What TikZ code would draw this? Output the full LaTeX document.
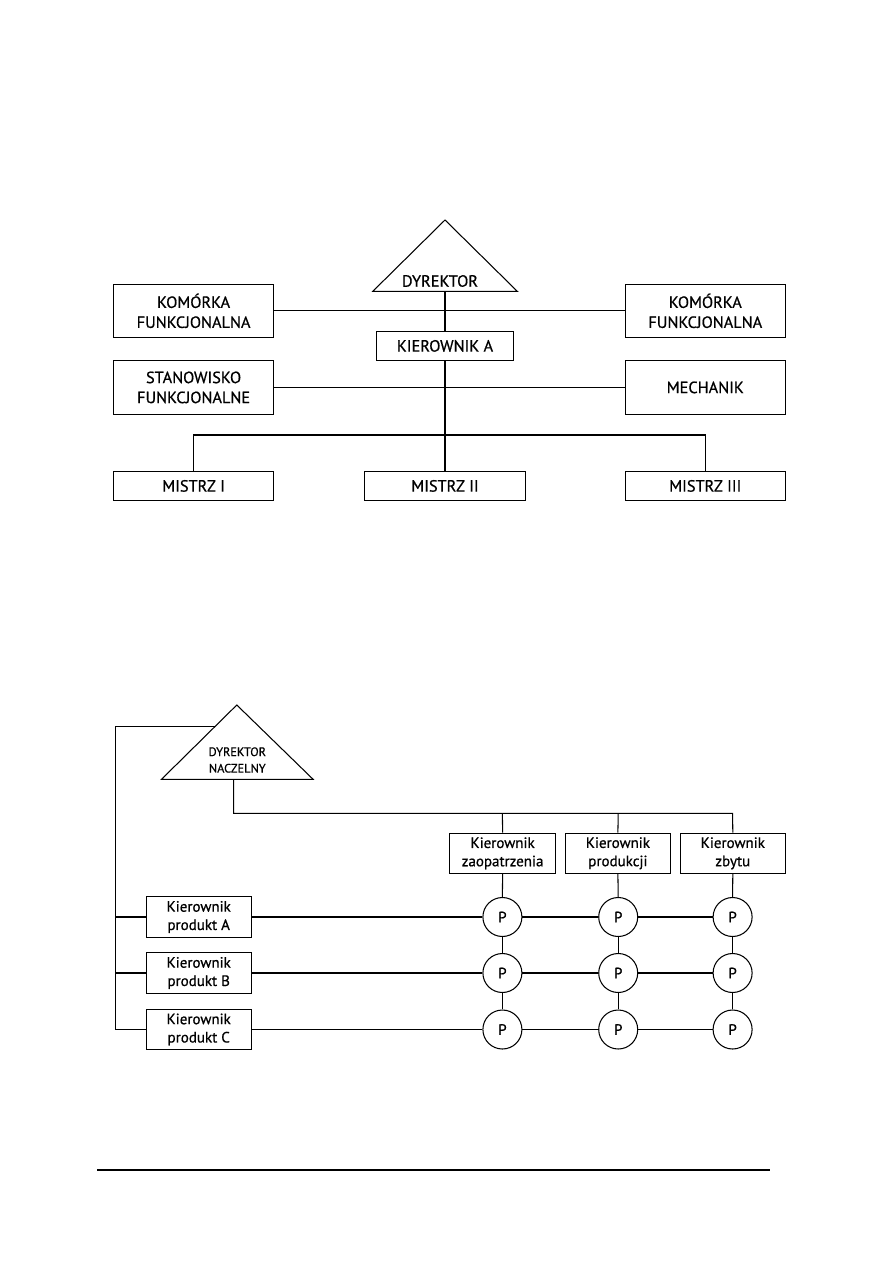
\documentclass[tikz,border=0pt]{standalone}
\usepackage{fontspec}
\setmainfont[FakeBold=0.7]{PT Sans}
\begin{document}
\begin{tikzpicture}[x=1pt,y=-1pt,line width=1.05pt,
  bigbox/.style={draw,rectangle,inner sep=0pt,minimum width=160.5pt,minimum height=53.5pt,align=center,font=\fontsize{16.3}{20}\selectfont},
  slimbox/.style={draw,rectangle,inner sep=0pt,minimum height=28.3pt,align=center,font=\fontsize{16.3}{20}\selectfont},
  kbox/.style={draw,rectangle,inner sep=0pt,minimum width=105.3pt,minimum height=40.3pt,align=center,font=\fontsize{15}{18.3}\selectfont},
  pcirc/.style={draw,circle,inner sep=0pt,minimum size=39pt,font=\fontsize{15}{18}\selectfont},
  tritext/.style={inner sep=0pt,align=center}]
\useasboundingbox (0,0) rectangle (893,1263);
% ---------- top diagram ----------
\draw (372.8,291.3) -- (445,220) -- (517.3,291.3) -- cycle;
\coordinate (dyrB) at (445,291.3);
\node[tritext,font=\fontsize{16.3}{20}\selectfont] (dyr) at (440,281) {DYREKTOR};
\node[bigbox] (komL) at (193.6,310.9) {KOMÓRKA\\FUNKCJONALNA};
\node[bigbox] (komR) at (705.3,310.9) {KOMÓRKA\\FUNKCJONALNA};
\node[slimbox,minimum width=137.7pt] (kierA) at (445,345.9) {KIEROWNIK A};
\node[bigbox] (stan) at (193.6,387.4) {STANOWISKO\\FUNKCJONALNE};
\node[bigbox] (mech) at (705.3,387.4) {MECHANIK};
\node[slimbox,minimum width=160.5pt] (m1) at (193.6,485.9) {MISTRZ I};
\node[slimbox,minimum width=160.5pt] (m2) at (445,485.9) {MISTRZ II};
\node[slimbox,minimum width=160.5pt] (m3) at (705.3,485.9) {MISTRZ III};
\coordinate (busL) at (193.6,435);
\coordinate (busR) at (705.3,435);
\draw (dyrB) -- (kierA.north);
\draw (kierA.south) -- (m2.north);
\draw (komL.east) -- (komR.west);
\draw (stan.east) -- (mech.west);
\draw (m1.north) -- (busL) -- (busR) -- (m3.north);
% ---------- bottom diagram ----------
\draw (161.5,779.3) -- (236.8,705) -- (313.1,779.3) -- cycle;
\coordinate (dnB) at (233.6,779.3);
\coordinate (dnL) at (214.8,726.7);
\node[tritext,font=\fontsize{12.3}{16.5}\selectfont] (dn) at (237.3,760) {DYREKTOR\\NACZELNY};
\node[kbox] (kz) at (502.6,853.3) {Kierownik\\zaopatrzenia};
\node[kbox] (kp) at (617.9,853.3) {Kierownik\\produkcji};
\node[kbox] (kzb) at (732.8,853.3) {Kierownik\\zbytu};
\node[kbox] (pa) at (198.7,917) {Kierownik\\produkt A};
\node[kbox] (pb) at (198.7,973) {Kierownik\\produkt B};
\node[kbox] (pc) at (198.7,1029.5) {Kierownik\\produkt C};
\foreach \r/\y in {a/917,b/973,c/1029.5}{
  \node[pcirc] (p1\r) at (502.4,\y) {P};
  \node[pcirc] (p2\r) at (618.2,\y) {P};
  \node[pcirc] (p3\r) at (732.6,\y) {P};
}
\coordinate (fbTop) at (115.7,726.7);
\coordinate (fbA) at (115.7,917);
\coordinate (fbB) at (115.7,973);
\coordinate (fbC) at (115.7,1029.5);
\coordinate (bus1) at (233.6,813.3);
\coordinate (bus2) at (502.4,813.3);
\coordinate (bus3) at (618.2,813.3);
\coordinate (bus4) at (732.6,813.3);
\draw (dnL) -- (fbTop) -- (fbC);
\draw (fbA) -- (pa.west);
\draw (fbB) -- (pb.west);
\draw (fbC) -- (pc.west);
\draw (dnB) -- (bus1) -- (bus4) -- (kzb.north);
\draw (bus2) -- (kz.north);
\draw (bus3) -- (kp.north);
\draw (kz.south) -- (p1a.north);
\draw (kp.south) -- (p2a.north);
\draw (kzb.south) -- (p3a.north);
\foreach \r/\s in {a/pa,b/pb,c/pc}{
  \draw (\s.east) -- (p1\r.west);
  \draw (p1\r.east) -- (p2\r.west);
  \draw (p2\r.east) -- (p3\r.west);
}
\foreach \c in {1,2,3}{
  \draw (p\c a.south) -- (p\c b.north);
  \draw (p\c b.south) -- (p\c c.north);
}
% ---------- footer rule ----------
\coordinate (ruleL) at (97,1170);
\coordinate (ruleR) at (770,1170);
\draw[line width=1.5pt] (ruleL) -- (ruleR);
\end{tikzpicture}
\end{document}
